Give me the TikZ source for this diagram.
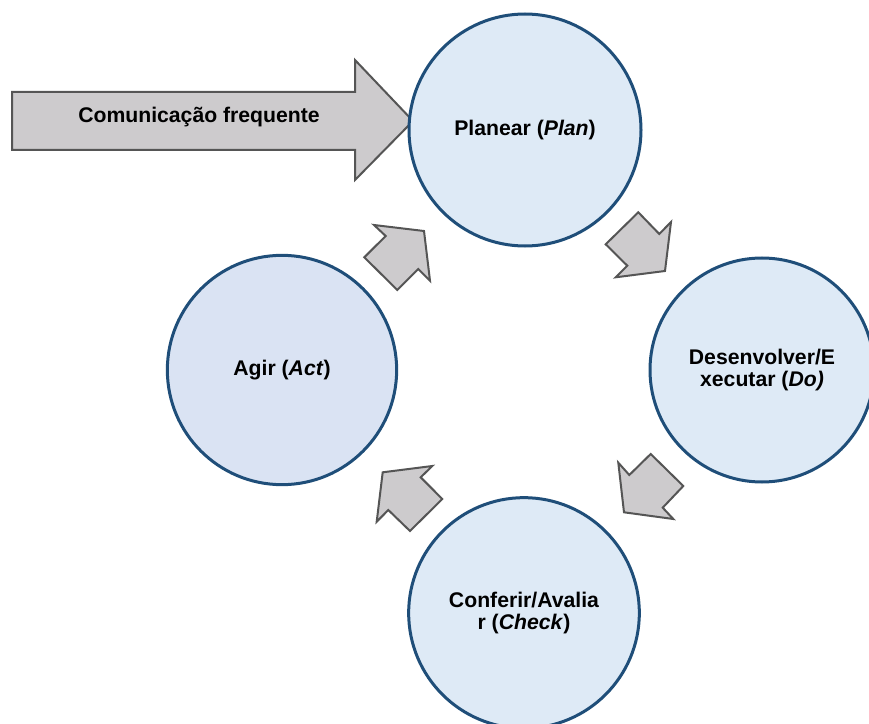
\documentclass[tikz,border=0pt]{standalone}
\usepackage{fontspec}
\setmainfont{Liberation Sans}
\begin{document}
\begin{tikzpicture}[x=0.75pt,y=-0.75pt,
  stage/.style={circle, draw=stageline, line width=2.25pt, inner sep=0pt,
    align=center, font=\fontsize{15.9}{16.2}\selectfont\bfseries},
  flow/.style={draw=arrowline, fill=arrowfill, line width=1.5pt, line join=miter},
  label/.style={font=\fontsize{15.9}{16.2}\selectfont\bfseries, inner sep=0pt}]
\definecolor{stageline}{HTML}{1F4E79}
\definecolor{stagefill}{HTML}{DEEAF6}
\definecolor{actfill}{HTML}{DAE3F3}
\definecolor{arrowline}{HTML}{555555}
\definecolor{arrowfill}{HTML}{CDCBCD}
\useasboundingbox (0,0) rectangle (869,724);
\clip (0,0) rectangle (869,724);

% input arrow
\draw[flow] (12,92) -- (355,92) -- (355,60) -- (413,121) -- (355,180) -- (355,150) -- (12,150) -- cycle;
\node[label] (com) at (199,117) {Comunicação frequente};

% PDCA stages
\node[stage, fill=stagefill, minimum size=174pt] (plan) at (525,130) {Planear (\textit{Plan})};
\node[stage, fill=stagefill, minimum size=168pt] (do) at (762,370) {Desenvolver/E\\xecutar (\textit{Do)}};
\node[stage, fill=stagefill, minimum size=173pt] (check) at (524,613) {Conferir/Avalia\\r (\textit{Check})};
\node[stage, fill=actfill, minimum size=172pt] (act) at (282,370) {Agir (\textit{Act})};

% cycle arrows
\draw[flow] (638.3,212.3) -- (659.3,234) -- (671,222) -- (665,271) -- (615.7,277.3) -- (627.3,265.7) -- (605.7,244.3) -- cycle;
\draw[flow] (618.3,462.7) -- (629.3,475) -- (650.7,454) -- (683.3,486) -- (662.7,507.7) -- (673.3,519) -- (624,512.3) -- cycle;
\draw[flow] (382.7,472.3) -- (432.3,466) -- (420.7,477.3) -- (442.3,499) -- (410,531) -- (388.3,510) -- (376.7,521.7) -- cycle;
\draw[flow] (374,225) -- (424,231) -- (430,280.7) -- (418.3,269) -- (397.3,290) -- (364.3,257.3) -- (385.7,236) -- cycle;
\end{tikzpicture}
\end{document}
